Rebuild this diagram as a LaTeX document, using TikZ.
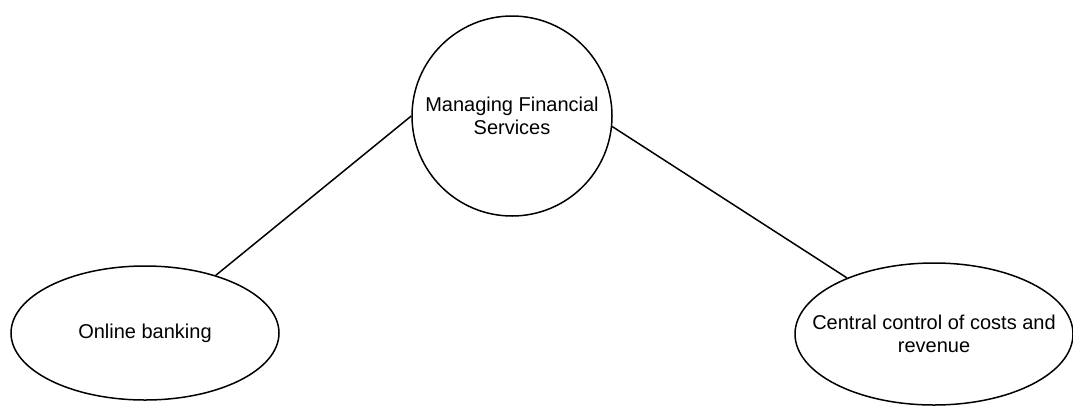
\documentclass[tikz,border=0pt]{standalone}
\usepackage{fontspec}
\setmainfont{Liberation Sans}
\usetikzlibrary{shapes.geometric}

\begin{document}
\begin{tikzpicture}[x=1pt,y=-1pt,
    every node/.style={font=\fontsize{20}{23}\selectfont, align=center},
    oval/.style={draw, ellipse, line width=1.5pt, inner sep=0pt},
    topic/.style={draw, circle, line width=1.5pt, inner sep=0pt, minimum size=200pt}]
      \useasboundingbox (0,0) rectangle (1073,405);

      \node[topic](mfs) at (512,116){Managing Financial\\Services};
      \node[oval, minimum width=268pt, minimum height=134pt](bank) at (145,333){Online banking};
      \node[oval, minimum width=278pt, minimum height=142pt,
            label={[align=center]center:Central control of costs and\\revenue}](costs) at (934,334){};


      \draw[line width=1.5pt] (mfs.west) -- (bank);
      \draw[line width=1.5pt] (mfs.-6) -- (costs);

    \end{tikzpicture}
\end{document}
